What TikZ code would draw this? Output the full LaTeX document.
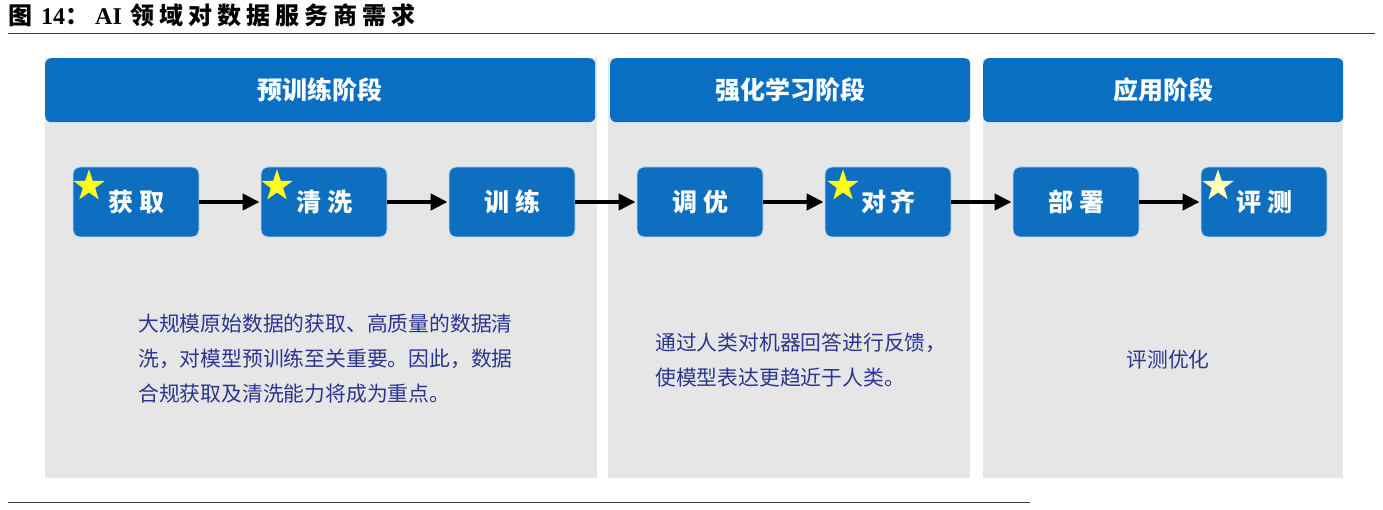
\documentclass[tikz,border=0pt]{standalone}
\usepackage{fontspec}
\newfontfamily\cjk{Noto Sans CJK SC}
\newfontfamily\latinserif{Liberation Serif}
\usetikzlibrary{shapes.geometric,arrows.meta}
\definecolor{hdrblue}{HTML}{0A6FC2}
\definecolor{boxblue}{HTML}{0E6EC0}
\definecolor{panelgray}{HTML}{E6E6E6}
\definecolor{desctext}{HTML}{2C3590}
\definecolor{rulegray}{HTML}{3A3A3A}
\definecolor{staryellow}{HTML}{FFFF1A}
\definecolor{starpale}{HTML}{FFFFB8}
\newcommand{\tk}[1]{#1\kern5pt}
\tikzset{
  panel/.style={fill=panelgray, draw=none, anchor=north west, inner sep=0pt},
  header/.style={fill=hdrblue, draw=none, rounded corners=6pt, anchor=north west, inner sep=0pt,
    text=white, font=\cjk\bfseries\fontsize{25}{28}\selectfont},
  stepbox/.style={fill=boxblue, draw=white!75!boxblue, line width=0.8pt, rounded corners=7pt,
    minimum width=126pt, minimum height=70pt, inner sep=0pt, text=white,
    font=\cjk\bfseries\fontsize{25}{28}\selectfont},
  flow/.style={-{Triangle[length=17pt,width=16pt]}, line width=4.5pt, black, shorten >=1pt},
  starmark/.style={star, star points=5, star point ratio=2.55, minimum size=33pt, inner sep=0pt,
    draw=none},
  desc/.style={text=desctext, anchor=north west, align=left, inner sep=0pt,
    font=\cjk\fontsize{20.8}{35}\selectfont},
}
\begin{document}
\begin{tikzpicture}[x=1pt,y=-1pt]
\useasboundingbox (0,0) rectangle (1383,510);
\fill[white] (0,0) rectangle (1383,510);
% title
\node[anchor=west, inner sep=0pt, font=\fontsize{24}{28}\selectfont] (title) at (8,15)
  {\cjk\bfseries 图\kern9pt\latinserif\bfseries 14\cjk\bfseries ：\kern6pt\latinserif\bfseries AI\kern9pt\cjk\bfseries \tk{领}\tk{域}\tk{对}\tk{数}\tk{据}\tk{服}\tk{务}\tk{商}\tk{需}求};
\draw[rulegray, line width=1.3pt] (8,33.5) -- (1375,33.5);
% panels
\node[panel, minimum width=552pt, minimum height=420pt] (p1) at (45,58) {};
\node[panel, minimum width=362pt, minimum height=420pt] (p2) at (608,58) {};
\node[panel, minimum width=360pt, minimum height=420pt] (p3) at (983,58) {};
% headers
\node[header, minimum width=550pt, minimum height=64pt] (h1) at (45,58) {预训练阶段};
\node[header, minimum width=360pt, minimum height=64pt] (h2) at (610,58) {强化学习阶段};
\node[header, minimum width=360pt, minimum height=64pt] (h3) at (983,58) {应用阶段};
% steps
\node[stepbox] (s1) at (136,202) {获\kern6pt 取};
\node[stepbox] (s2) at (324,202) {清\kern6pt 洗};
\node[stepbox] (s3) at (512,202) {训\kern6pt 练};
\node[stepbox] (s4) at (700,202) {调\kern6pt 优};
\node[stepbox] (s5) at (888,202) {对\kern4pt 齐};
\node[stepbox] (s6) at (1076,202) {部\kern6pt 署};
\node[stepbox] (s7) at (1264,202) {评\kern6pt 测};
% stars
\node[starmark, fill=staryellow] (st1) at (89,186) {};
\node[starmark, fill=staryellow] (st2) at (277,186) {};
\node[starmark, fill=staryellow] (st5) at (843,186) {};
\node[starmark, fill=starpale] (st7) at (1218,186) {};
% arrows
\draw[flow] (s1.east) -- (s2.west);
\draw[flow] (s2.east) -- (s3.west);
\draw[flow] (s3.east) -- (s4.west);
\draw[flow] (s4.east) -- (s5.west);
\draw[flow] (s5.east) -- (s6.west);
\draw[flow] (s6.east) -- (s7.west);
% descriptions
\node[desc] (d1) at (138,314) {大规模原始数据的获取、高质量的数据清\\洗，对模型预训练至关重要。因此，数据\\合规获取及清洗能力将成为重点。};
\node[desc] (d2) at (655,333) {通过人类对机器回答进行反馈，\\使模型表达更趋近于人类。};
\node[text=desctext, inner sep=0pt, font=\cjk\fontsize{20.8}{24}\selectfont] (d3) at (1168,360) {评测优化};
% bottom rule
\draw[rulegray, line width=1.3pt] (8,502.5) -- (1030,502.5);
\end{tikzpicture}
\end{document}
